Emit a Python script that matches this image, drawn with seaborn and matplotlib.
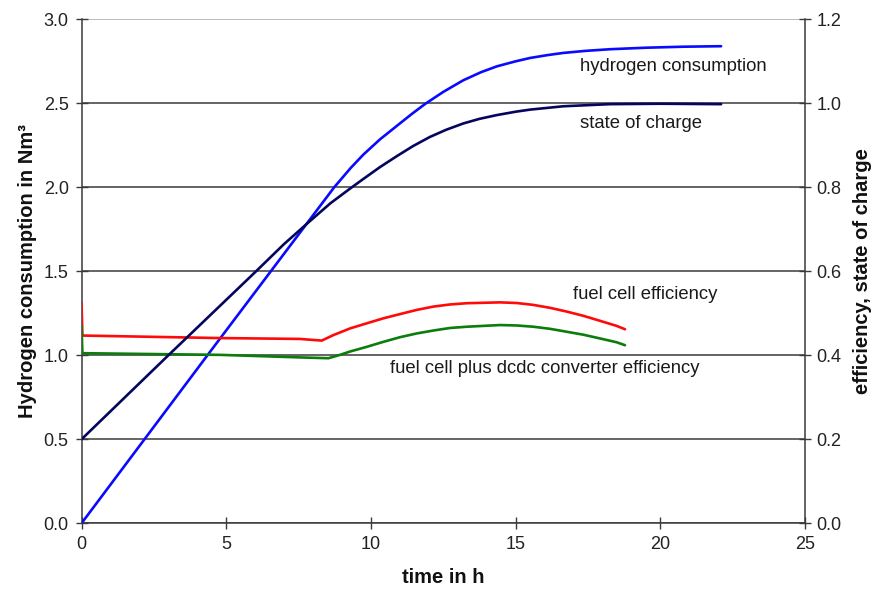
import numpy as np
import pandas as pd
import matplotlib
matplotlib.use("Agg")
import matplotlib.pyplot as plt
import seaborn as sns

# ---- data ----
h2_time = [0.0, 4.35, 8.73, 9.3, 9.74, 10.31, 10.89, 11.4, 11.87, 12.5, 13.19, 13.8, 14.35,
           15.0, 15.5, 16.1, 16.65, 17.4, 18.26, 19.5, 20.8, 22.1]
h2_cons = [0.0, 1.0, 2.0, 2.115, 2.195, 2.285, 2.365, 2.435, 2.496, 2.568, 2.637, 2.685, 2.72,
           2.75, 2.77, 2.787, 2.8, 2.812, 2.822, 2.831, 2.837, 2.84]

soc_time = [0.0, 3.0, 6.03, 7.0, 7.85, 8.6, 9.28, 9.74, 10.31, 10.89, 11.45, 12.04, 12.6,
            13.19, 13.75, 14.35, 15.0, 15.5, 16.65, 18.26, 20.0, 22.1]
soc_vals = [0.2, 0.4, 0.6, 0.665, 0.717, 0.762, 0.797, 0.82, 0.848, 0.874, 0.898, 0.92, 0.937,
            0.952, 0.963, 0.972, 0.98, 0.985, 0.993, 0.998, 0.999, 0.998]

fc_time = [0.0, 0.03, 4.79, 7.53, 8.3, 8.70, 9.28, 9.85, 10.43, 11.0, 11.58, 12.16, 12.73,
           13.31, 13.88, 14.46, 15.04, 15.61, 16.19, 16.77, 17.34, 17.92, 18.49, 18.78]
fc_eff = [0.525, 0.447, 0.441, 0.439, 0.435, 0.448, 0.464, 0.476, 0.488, 0.498, 0.508, 0.516,
          0.521, 0.524, 0.525, 0.526, 0.5245, 0.52, 0.513, 0.504, 0.494, 0.482, 0.47, 0.462]

sys_time = [0.0, 0.03, 4.79, 7.53, 8.53, 8.93, 9.28, 9.85, 10.43, 11.0, 11.58, 12.16, 12.73,
            13.31, 13.88, 14.46, 15.04, 15.61, 16.19, 16.77, 17.34, 17.92, 18.49, 18.78]
sys_eff = [0.47, 0.405, 0.401, 0.395, 0.393, 0.401, 0.409, 0.42, 0.432, 0.443, 0.452, 0.459,
           0.465, 0.468, 0.47, 0.472, 0.471, 0.468, 0.463, 0.456, 0.449, 0.44, 0.431, 0.424]

x_ticks = [0, 5, 10, 15, 20, 25]
left_ticks = [0.0, 0.5, 1.0, 1.5, 2.0, 2.5, 3.0]
right_ticks = [0.0, 0.2, 0.4, 0.6, 0.8, 1.0, 1.2]

labels = {
    "h2": "hydrogen consumption",
    "soc": "state of charge",
    "fc": "fuel cell efficiency",
    "sys": "fuel cell plus dcdc converter efficiency",
}

# ---- styling ----
sns.set_style("white")
plt.rcParams["font.family"] = ["Liberation Sans", "DejaVu Sans"]

fig = plt.figure(figsize=(8.72, 5.91), dpi=100)
ax = fig.add_axes([0.0935, 0.1146, 0.9232 - 0.0935, 0.9673 - 0.1146])
ax2 = ax.twinx()

lw = 1.9
line_kw = dict(lw=lw, solid_joinstyle="round", solid_capstyle="round")
sns.lineplot(x=h2_time, y=h2_cons, ax=ax, color="#0a0aff", zorder=3, **line_kw)
sns.lineplot(x=fc_time, y=fc_eff, ax=ax2, color="#ff0a0a", zorder=3, **line_kw)
sns.lineplot(x=sys_time, y=sys_eff, ax=ax2, color="#0a7d0a", zorder=4, **line_kw)
sns.lineplot(x=soc_time, y=soc_vals, ax=ax2, color="#05055e", zorder=5, **line_kw)

ax.set_xlim(0, 25)
ax.set_ylim(0, 3.0)
ax2.set_ylim(0, 1.2)
ax.set_xticks(x_ticks)
ax.set_yticks(left_ticks)
ax2.set_yticks(right_ticks)
ax.set_xticklabels([str(v) for v in x_ticks])
ax.set_yticklabels([f"{v:.1f}" for v in left_ticks])
ax2.set_yticklabels([f"{v:.1f}" for v in right_ticks])

# grid
ax.yaxis.grid(True, color="#3a3a3a", lw=1.1)
ax.xaxis.grid(False)
ax2.grid(False)
ax.set_axisbelow(True)
ax.get_ygridlines()[-1].set_color("#a8a8a8")

# spines
for s in ["top", "right"]:
    ax.spines[s].set_visible(False)
for s in ["top", "left", "bottom"]:
    ax2.spines[s].set_visible(False)
for sp in [ax.spines["left"], ax.spines["bottom"], ax2.spines["right"]]:
    sp.set_color("#3a3a3a")
    sp.set_linewidth(1.1)
    sp.set_visible(True)

ax.tick_params(axis="both", direction="inout", length=8.5, width=1.0, color="#3a3a3a",
               labelsize=13, labelcolor="#222222")
ax.tick_params(axis="y", pad=5, left=True)
ax.tick_params(axis="x", pad=5, bottom=True)
ax2.tick_params(axis="y", direction="inout", length=8.5, width=1.0, color="#3a3a3a",
                labelsize=13, labelcolor="#222222", pad=4, right=True)

# axis labels
ax.set_xlabel("time in h", fontsize=14.5, fontweight="bold", color="#111111")
ax.set_ylabel("Hydrogen consumption in Nm³", fontsize=14.5, fontweight="bold", color="#111111")
ax2.set_ylabel("efficiency, state of charge", fontsize=14.5, fontweight="bold", color="#111111")
ax.xaxis.set_label_coords(0.5, -0.1085)
ax.xaxis.label.set_va("center")
ax.yaxis.set_label_coords(-0.074, 0.5)
ax.yaxis.label.set_va("center")
ax2.yaxis.set_label_coords(1.0795, 0.5)
ax2.yaxis.label.set_va("center")
ax2.yaxis.label.set_rotation(90)

# in-plot annotations
txt_kw = dict(transform=ax.transAxes, fontsize=13.3, color="#1a1a1a", ha="left", va="center")
ax.text(0.689, 0.907, labels["h2"], **txt_kw)
ax.text(0.689, 0.794, labels["soc"], **txt_kw)
ax.text(0.679, 0.453, labels["fc"], **txt_kw)
ax.text(0.426, 0.308, labels["sys"], **txt_kw)

fig.savefig("out.png", dpi=100)
